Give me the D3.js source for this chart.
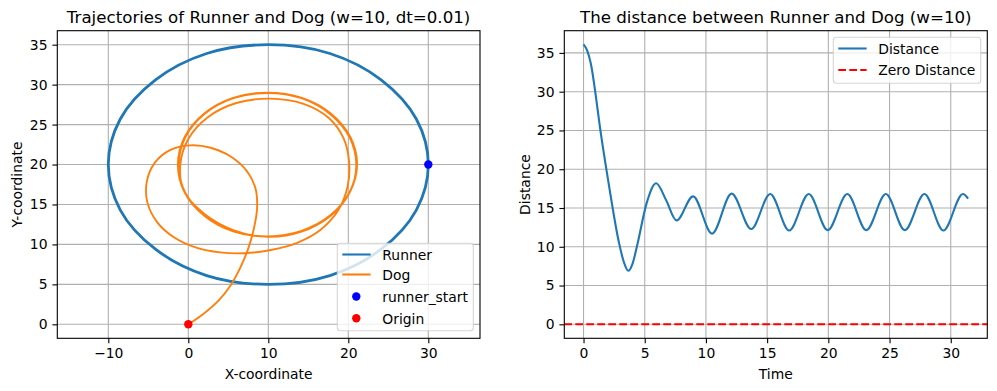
<!DOCTYPE html>
<html>
<head>
<meta charset="utf-8">
<title>Runner and Dog</title>
<script src="https://d3js.org/d3.v7.min.js"></script>
<style>
  body { margin: 0; background: #fff; }
  text { font-family: "DejaVu Sans", sans-serif; fill: #000; }
</style>
</head>
<body>
<div id="chart"></div>
<script>
// runner path
var runnerX = [30, 28.5, 24.1, 17.7, 10, 2.3, -4.1, -8.5, -10, -8.5, -4.1, 2.3, 10, 17.7, 24.1, 28.5];
var runnerY = [20, 25.7, 30.6, 33.9, 35, 33.9, 30.6, 25.7, 20, 14.3, 9.4, 6.1, 5, 6.1, 9.4, 14.3];

// dog path
var dogX = [0, 2.0, 3.8, 5.3, 6.5, 7.5, 8.2, 8.6, 8.4, 7.3, 5.3, 2.8, 0.2, -2.3, -4.2, -5.2, -5.1, -3.9, -1.8, 1.0,
  4.0, 7.0, 10.3, 13.6, 16.5, 18.7, 19.9, 20.1, 19.4, 17.6, 14.4, 10.2, 6.0, 2.4, 0.0, -1.0,
  -0.6, 1.9, 5.6, 9.9, 14.15, 17.75, 20.16, 21.0, 20.16, 17.75, 14.15, 9.9, 5.65, 2.05, -0.36, -1.2,
  -0.4, 2.0, 5.6, 9.9, 14.2, 17.8, 20.2, 21.1, 20.25, 17.8, 14.2, 9.9, 5.6, 2.0, -0.45, -1.3,
  -0.45, 2.0, 5.65, 9.9, 14.15, 17.75, 20.16, 21.05, 20.2, 17.8, 15.8];
var dogY = [0, 1.4, 3.0, 4.9, 7.1, 9.5, 12.0, 14.6, 17.0, 19.2, 21.0, 22.1, 22.4, 21.8, 20.2, 17.8, 15.2, 12.8, 10.9, 9.6,
  9.0, 8.9, 9.3, 10.2, 11.8, 14.2, 17.2, 20.3, 23.3, 25.8, 27.6, 28.25, 27.7, 25.9, 23.2, 20.0,
  16.8, 13.9, 11.8, 10.95, 11.6, 13.6, 16.5, 19.9, 23.4, 26.3, 28.3, 28.95, 28.3, 26.35, 23.45, 20.0,
  16.5, 13.6, 11.65, 11.0, 11.65, 13.6, 16.55, 20.0, 23.45, 26.4, 28.35, 29.0, 28.35, 26.4, 23.45, 19.95,
  16.5, 13.6, 11.65, 11.0, 11.7, 13.65, 16.55, 20.0, 23.5, 26.4, 27.6];

var runnerStart = [30, 20];
var origin = [0, 0];

// distance over time
var timeVals = [0, 0.3, 0.6, 1.0, 1.3, 2.1, 2.9, 3.3, 3.66, 4.0, 4.4, 5.15, 5.93, 6.75, 7.6, 8.95, 10.5, 12.1, 13.7,
  15.25, 16.8, 18.4, 19.95, 21.55, 23.1, 24.7, 26.25, 27.85, 29.4, 31.0, 31.42];
var distVals = [36.1, 35.3, 33.6, 29.5, 25.9, 17.7, 10.5, 8.0, 6.9, 7.8, 10.3, 15.6, 18.2, 16.0, 13.4, 16.5, 11.7, 16.85, 12.3,
  16.8, 12.1, 16.8, 12.15, 16.8, 12.15, 16.8, 12.15, 16.8, 12.1, 16.8, 16.2];

var xTicksL = [-10, 0, 10, 20, 30];
var yTicksL = [0, 5, 10, 15, 20, 25, 30, 35];
var xTicksR = [0, 5, 10, 15, 20, 25, 30];
var yTicksR = [0, 5, 10, 15, 20, 25, 30, 35];

var blue = "#1f77b4", orange = "#ff7f0e";

var svg = d3.select("#chart").append("svg")
    .attr("width", 997)
    .attr("height", 391);

var xL = d3.scaleLinear().domain([-16.375, 36.46]).range([57.3, 480]);
var yL = d3.scaleLinear().domain([-1.75, 36.75]).range([338.3, 30.7]);
var xR = d3.scaleLinear().domain([-1.571, 32.987]).range([564.3, 987.3]);
var yR = d3.scaleLinear().domain([-1.803, 37.863]).range([338.3, 30.7]);

function grid(x, y, xt, yt) {
    var g = svg.append("g");
    g.selectAll(".gx").data(xt).enter().append("line")
        .attr("x1", d => x(d)).attr("x2", d => x(d))
        .attr("y1", y.range()[0]).attr("y2", y.range()[1])
        .attr("stroke", "#b0b0b0").attr("stroke-width", 1.1);
    g.selectAll(".gy").data(yt).enter().append("line")
        .attr("y1", d => y(d)).attr("y2", d => y(d))
        .attr("x1", x.range()[0]).attr("x2", x.range()[1])
        .attr("stroke", "#b0b0b0").attr("stroke-width", 1.1);
}

function frame(x, y, xt, yt) {
    var ax = svg.append("g")
        .attr("transform", "translate(0," + y.range()[0] + ")")
        .call(d3.axisBottom(x).tickValues(xt).tickSize(4.9).tickPadding(4.9).tickSizeOuter(0));
    var ay = svg.append("g")
        .attr("transform", "translate(" + x.range()[0] + ",0)")
        .call(d3.axisLeft(y).tickValues(yt).tickSize(4.9).tickPadding(4.9).tickSizeOuter(0));
    [ax, ay].forEach(function(a) {
        a.select(".domain").remove();
        a.attr("font-size", 13.9).attr("font-family", "DejaVu Sans");
        a.selectAll("line").attr("stroke-width", 1.1);
    });
    svg.append("rect")
        .attr("x", x.range()[0]).attr("y", y.range()[1])
        .attr("width", x.range()[1] - x.range()[0])
        .attr("height", y.range()[0] - y.range()[1])
        .attr("fill", "none").attr("stroke", "#000").attr("stroke-width", 1.1);
}

function legend(x0, y0, w, h, items) {
    var g = svg.append("g");
    g.append("rect")
        .attr("x", x0).attr("y", y0).attr("width", w).attr("height", h)
        .attr("rx", 3)
        .attr("fill", "#fff").attr("fill-opacity", 0.8)
        .attr("stroke", "#ccc").attr("stroke-opacity", 0.8).attr("stroke-width", 1.1);
    items.forEach(function(it) {
        if (it.type == "line") {
            g.append("line")
                .attr("x1", x0 + 5).attr("x2", x0 + 33.3)
                .attr("y1", it.y).attr("y2", it.y)
                .attr("stroke", it.color).attr("stroke-width", 2.1)
                .attr("stroke-dasharray", it.dash || null);
        } else {
            g.append("circle")
                .attr("cx", x0 + 19).attr("cy", it.y).attr("r", 4.2)
                .attr("fill", it.color);
        }
        g.append("text")
            .attr("x", x0 + 45).attr("y", it.y + 5.2)
            .attr("font-size", 13.9)
            .text(it.label);
    });
}

// ---- left panel
grid(xL, yL, xTicksL, yTicksL);

var runnerPts = runnerX.map((d, i) => [d, runnerY[i]]);
var dogPts = dogX.map((d, i) => [d, dogY[i]]);

var lineL = d3.line().x(d => xL(d[0])).y(d => yL(d[1]));

svg.append("path")
    .attr("d", lineL.curve(d3.curveCatmullRomClosed.alpha(0.5))(runnerPts))
    .attr("fill", "none").attr("stroke", blue).attr("stroke-width", 2.8);

svg.append("path")
    .attr("d", lineL.curve(d3.curveCatmullRom.alpha(0.5))(dogPts))
    .attr("fill", "none").attr("stroke", orange).attr("stroke-width", 1.9);

svg.append("circle")
    .attr("cx", xL(runnerStart[0])).attr("cy", yL(runnerStart[1])).attr("r", 4.2)
    .attr("fill", "#0000ff");
svg.append("circle")
    .attr("cx", xL(origin[0])).attr("cy", yL(origin[1])).attr("r", 4.2)
    .attr("fill", "#ff0000");

frame(xL, yL, xTicksL, yTicksL);

svg.append("text").attr("x", 268.6).attr("y", 22.5).attr("text-anchor", "middle")
    .attr("font-size", 16.67).text("Trajectories of Runner and Dog (w=10, dt=0.01)");
svg.append("text").attr("x", 268.6).attr("y", 378.5).attr("text-anchor", "middle")
    .attr("font-size", 13.9).text("X-coordinate");
svg.append("text").attr("transform", "translate(21.5,184.5) rotate(-90)").attr("text-anchor", "middle")
    .attr("font-size", 13.9).text("Y-coordinate");

legend(337.3, 243.3, 136, 87.4, [
    {type: "line", color: blue, label: "Runner", y: 254.5},
    {type: "line", color: orange, label: "Dog", y: 274.5},
    {type: "dot", color: "#0000ff", label: "runner_start", y: 296.5},
    {type: "dot", color: "#ff0000", label: "Origin", y: 318.3}
]);

// ---- right panel
grid(xR, yR, xTicksR, yTicksR);

var distPts = timeVals.map((d, i) => [d, distVals[i]]);
svg.append("path")
    .attr("d", d3.line().x(d => xR(d[0])).y(d => yR(d[1])).curve(d3.curveMonotoneX)(distPts))
    .attr("fill", "none").attr("stroke", blue).attr("stroke-width", 2.1);

svg.append("line")
    .attr("x1", xR.range()[0]).attr("x2", xR.range()[1])
    .attr("y1", yR(0)).attr("y2", yR(0))
    .attr("stroke", "#ff0000").attr("stroke-width", 2.1)
    .attr("stroke-dasharray", "7.7,3.3");

frame(xR, yR, xTicksR, yTicksR);

svg.append("text").attr("x", 775.8).attr("y", 22.5).attr("text-anchor", "middle")
    .attr("font-size", 16.67).text("The distance between Runner and Dog (w=10)");
svg.append("text").attr("x", 775.8).attr("y", 378.5).attr("text-anchor", "middle")
    .attr("font-size", 13.9).text("Time");
svg.append("text").attr("transform", "translate(529.5,184.5) rotate(-90)").attr("text-anchor", "middle")
    .attr("font-size", 13.9).text("Distance");

legend(833.3, 37.3, 147.4, 46, [
    {type: "line", color: blue, label: "Distance", y: 48.5},
    {type: "line", color: "#ff0000", label: "Zero Distance", y: 70, dash: "7.7,3.3"}
]);
</script>
</body>
</html>
